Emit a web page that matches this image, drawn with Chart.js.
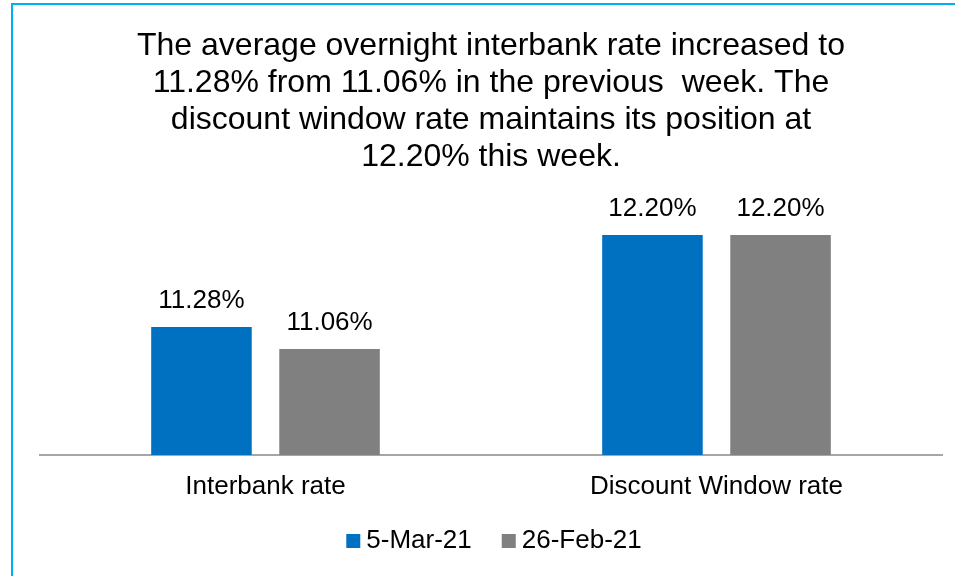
<!DOCTYPE html>
<html>
<head>
<meta charset="utf-8">
<script src="https://cdn.jsdelivr.net/npm/chart.js@4.4.1/dist/chart.umd.min.js"></script>
<style>
  html, body { margin: 0; padding: 0; background: #ffffff; width: 955px; height: 576px; overflow: hidden; }
  #frame { position: absolute; left: 11px; top: 3px; width: 2000px; height: 2000px; border-left: 2px solid #00B0F0; border-top: 2px solid #00B0F0; }
  #c { position: absolute; left: 0; top: 0; }
</style>
</head>
<body>
<div id="frame"></div>
<canvas id="c" width="955" height="576"></canvas>
<script>
const categories = ["Interbank rate", "Discount Window rate"];
const seriesNames = ["5-Mar-21", "26-Feb-21"];
const mar5Values = [11.28, 12.20];
const feb26Values = [11.06, 12.20];
const titleLines = [
  "The average overnight interbank rate increased to",
  "11.28% from 11.06% in the previous  week. The",
  "discount window rate maintains its position at",
  "12.20% this week."
];

const FONT = "'Liberation Sans', Arial, sans-serif";
Chart.defaults.font.family = FONT;
Chart.defaults.color = "#000000";

const valueLabels = {
  id: "valueLabels",
  afterDatasetsDraw(chart) {
    const ctx = chart.ctx;
    ctx.save();
    ctx.font = "26px " + FONT;
    ctx.fillStyle = "#000000";
    ctx.textAlign = "center";
    ctx.textBaseline = "alphabetic";
    chart.data.datasets.forEach((ds, i) => {
      const meta = chart.getDatasetMeta(i);
      meta.data.forEach((bar, j) => {
        ctx.fillText(ds.data[j].toFixed(2) + "%", bar.x, bar.y - 19);
      });
    });
    ctx.restore();
  }
};

const bottomLegend = {
  id: "bottomLegend",
  afterDraw(chart) {
    const ctx = chart.ctx;
    ctx.save();
    ctx.font = "26px " + FONT;
    ctx.textBaseline = "alphabetic";
    ctx.textAlign = "left";
    const box = 14, gapText = 6, gapItem = 30;
    const items = chart.data.datasets.map(ds => ({ text: ds.label, color: ds.backgroundColor, w: ctx.measureText(ds.label).width }));
    let total = 0;
    items.forEach((it, i) => { total += box + gapText + it.w + (i > 0 ? gapItem : 0); });
    const center = (chart.chartArea.left + chart.chartArea.right) / 2 + 3;
    let x = center - total / 2;
    const baseline = 548;
    items.forEach((it) => {
      ctx.fillStyle = it.color;
      ctx.fillRect(x, baseline - 14, box, box);
      ctx.fillStyle = "#000000";
      ctx.fillText(it.text, x + box + gapText, baseline);
      x += box + gapText + it.w + gapItem;
    });
    ctx.restore();
  }
};

new Chart(document.getElementById("c"), {
  type: "bar",
  data: {
    labels: categories,
    datasets: [
      { label: seriesNames[0], data: mar5Values, backgroundColor: "#0070C0", categoryPercentage: 0.568, barPercentage: 0.785 },
      { label: seriesNames[1], data: feb26Values, backgroundColor: "#808080", categoryPercentage: 0.568, barPercentage: 0.785 }
    ]
  },
  options: {
    responsive: false,
    animation: false,
    layout: { padding: { left: 40, right: 13, top: 0, bottom: 58 } },
    scales: {
      x: {
        grid: { display: false, drawTicks: false },
        border: { display: true, color: "#A6A6A6", width: 2 },
        ticks: { font: { size: 26 }, color: "#000000", padding: 16 },
        afterFit(scale) { scale.height = 63; }
      },
      y: {
        display: false,
        min: 10,
        max: 12.5
      }
    },
    plugins: {
      title: {
        display: true,
        text: titleLines,
        font: { size: 32, weight: "normal", lineHeight: 1.156 },
        color: "#000000",
        padding: { top: 28, bottom: 29 }
      },
      legend: { display: false },
      tooltip: { enabled: false }
    }
  },
  plugins: [valueLabels, bottomLegend]
});
</script>
</body>
</html>
